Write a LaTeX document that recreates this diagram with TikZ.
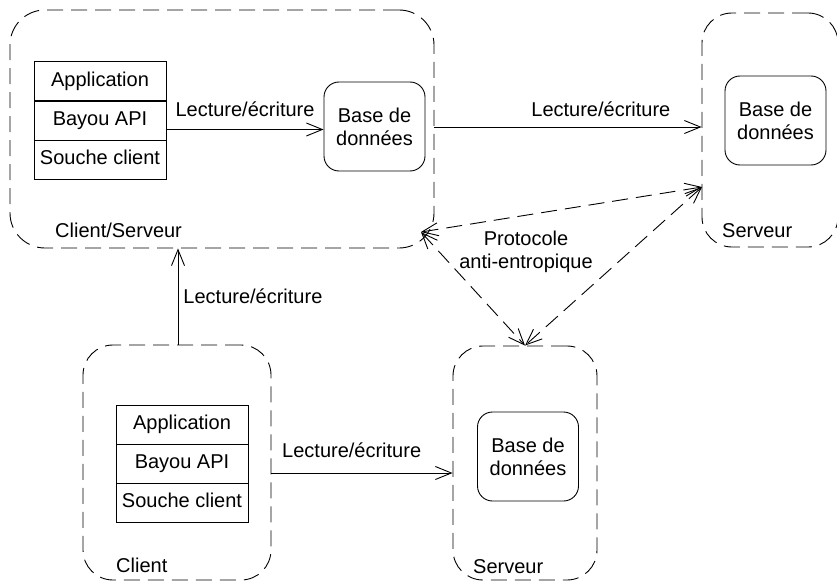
\documentclass[tikz,border=0pt]{standalone}
\usepackage{fontspec}
\setmainfont{Liberation Sans}
\usetikzlibrary{arrows.meta,calc}
\begin{document}
\begin{tikzpicture}[x=1pt,y=-1pt,
  every node/.style={font=\fontsize{20}{23}\selectfont},
  container/.style={draw, dash pattern=on 16pt off 8pt, line width=0.9pt, rounded corners=#1, inner sep=0pt},
  layer/.style={draw, line width=0.9pt, minimum width=132pt, minimum height=39pt, inner sep=0pt, text height=14.5pt, text depth=4pt},
  db/.style={draw, line width=0.9pt, rounded corners=15pt, minimum width=101pt, minimum height=89pt, align=center, inner sep=0pt},
  arr/.style={line width=0.9pt, -{Straight Barb[length=16pt,width=13pt,line width=0.9pt]}},
  darr/.style={line width=0.9pt, dash pattern=on 16pt off 8pt, {Straight Barb[length=16pt,width=13pt,line width=0.9pt]}-{Straight Barb[length=16pt,width=13pt,line width=0.9pt]}},
  lbl/.style={inner sep=0pt}
]
\useasboundingbox (0,0) rectangle (837,583);

% containers
\node[container=35pt, minimum width=424pt, minimum height=238pt] (cs) at (222,129) {};
\node[container=30pt, minimum width=136pt, minimum height=234pt] (s1) at (770,130) {};
\node[container=30pt, minimum width=188pt, minimum height=235pt] (c) at (177,462.5) {};
\node[container=30pt, minimum width=144pt, minimum height=234pt] (s2) at (525,463) {};

% container labels
\node[lbl, anchor=base west] (lcs) at (55,237) {Client/Serveur};
\node[lbl, anchor=base west] (ls1) at (722,237) {Serveur};
\node[lbl, anchor=base west] (lc) at (116,572) {Client};
\node[lbl, anchor=base west] (ls2) at (473,573) {Serveur};

% stacks
\node[layer] (app1) at (100,81) {Application};
\node[layer] (api1) at (100,120.5) {Bayou API};
\node[layer] (stub1) at (100,159.5) {Souche client};
\node[layer] (app2) at (182,424.5) {Application};
\node[layer] (api2) at (182,463.5) {Bayou API};
\node[layer] (stub2) at (182,502.5) {Souche client};

% databases
\node[db] (db1) at (374.5,126.5) {Base de\\données};
\node[db] (db2) at (775.5,120.5) {Base de\\données};
\node[db] (db3) at (528,456.5) {Base de\\données};

% solid connectors
\draw[arr] ([yshift=-3pt]api1.east |- db1.west) -- node[lbl, pos=0.5, anchor=base, yshift=13pt] {Lecture/écriture} ([yshift=-3pt]db1.west);
\draw[arr] ([yshift=2pt]cs.east) -- node[lbl, pos=0.623, anchor=base, yshift=10pt] {Lecture/écriture} ([yshift=2pt]cs.east -| s1.west);
\draw[arr] ([xshift=1pt]c.north) -- node[lbl, pos=0.5, anchor=west, xshift=5pt] {Lecture/écriture} ([xshift=1pt]c.north |- cs.south);
\draw[arr] ([yshift=-10.5pt]c.east) -- node[lbl, pos=0.443, anchor=base, yshift=16pt] {Lecture/écriture} ([yshift=-10.5pt]c.east -| s2.west);

% anti-entropy
\coordinate (p1) at (421,232);
\coordinate (p2) at (702,187);
\draw[darr] (p1) -- (p2);
\draw[darr] (p1) -- (s2.north);
\draw[darr] (p2) -- (s2.north);
\node[lbl, align=center] (proto) at (526,252) {Protocole\\anti-entropique};
\end{tikzpicture}
\end{document}
